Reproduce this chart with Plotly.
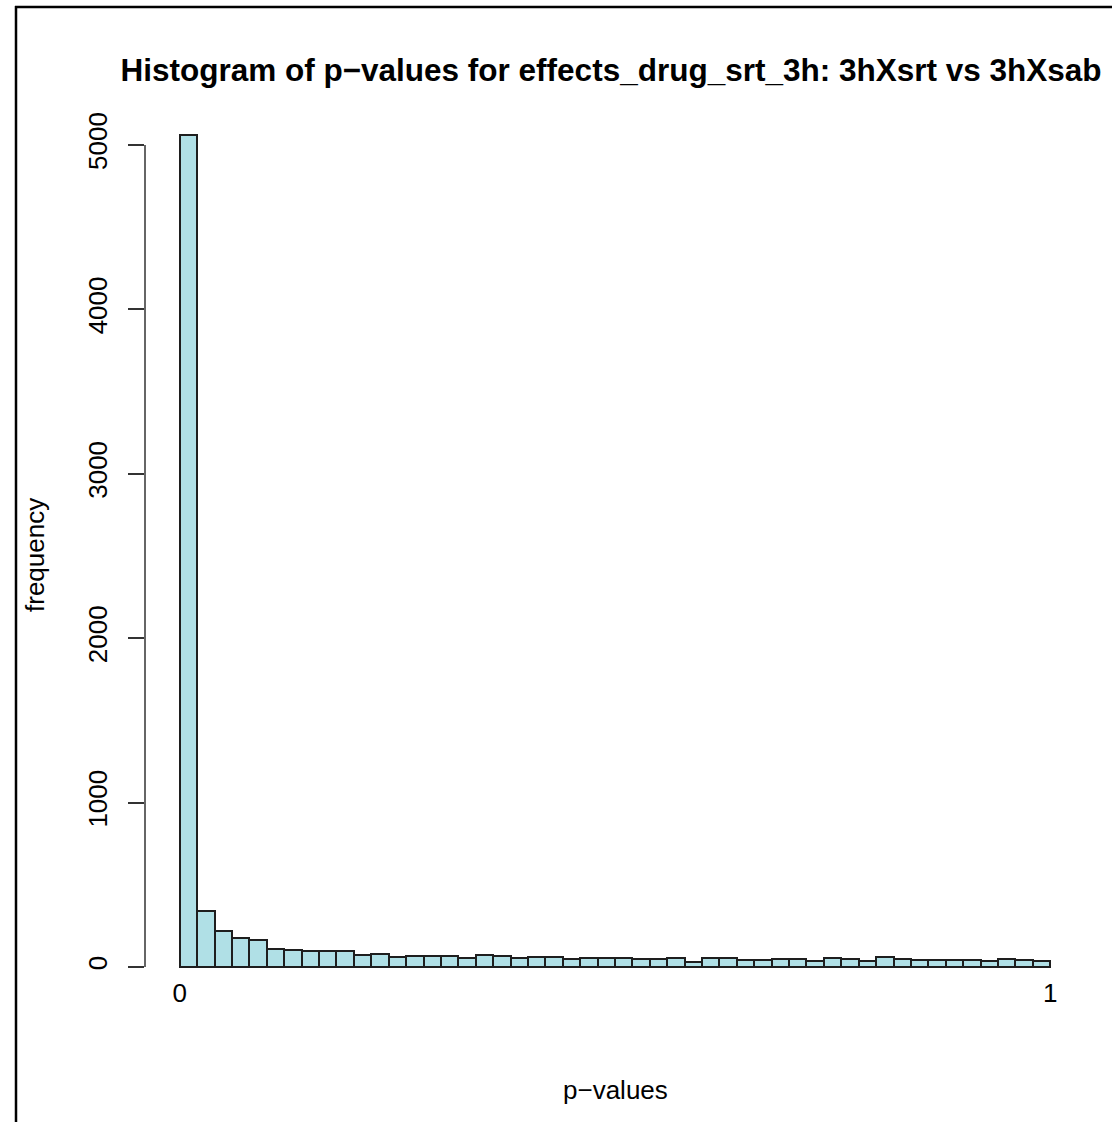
import plotly.graph_objects as go

# ---- data ----
bin_width = 0.02
bin_starts = [round(i * bin_width, 2) for i in range(50)]
counts = [5060, 340, 219, 175, 162, 110, 103, 100, 95, 95,
          75, 79, 59, 69, 69, 65, 57, 73, 65, 57,
          63, 63, 51, 53, 53, 57, 47, 47, 53, 32,
          53, 57, 45, 45, 49, 49, 38, 57, 49, 37,
          61, 51, 42, 45, 43, 43, 36, 51, 45, 36]
x_tick_vals = [0, 1]
x_tick_text = ["0", "1"]
y_tick_vals = [0, 1000, 2000, 3000, 4000, 5000]
y_tick_text = ["0", "1000", "2000", "3000", "4000", "5000"]

title_text = "Histogram of p\u2212values for effects_drug_srt_3h: 3hXsrt vs 3hXsab"
x_label = "p\u2212values"
y_label = "frequency"

FONT = "Liberation Sans, Arial, Helvetica, sans-serif"
W, H = 1112, 1122
L, R, T, B = 145, 27, 102, 147  # plot region 145..1085 x 102..975

fig = go.Figure()
fig.add_trace(go.Bar(
    x=[s + bin_width / 2 for s in bin_starts],
    y=counts,
    width=bin_width,
    marker=dict(color="#B0E0E6", line=dict(color="#1e1e1e", width=2)),
    hoverinfo="x+y",
    showlegend=False,
))

fig.update_layout(
    width=W, height=H,
    margin=dict(l=L, r=R, t=T, b=B, autoexpand=False),
    paper_bgcolor="white", plot_bgcolor="white",
    bargap=0,
    font=dict(family=FONT, size=26, color="black"),
    title=dict(text="<b>" + title_text + "</b>", x=611 / W, xref="container",
               y=1 - 70 / H, yref="container", xanchor="center", yanchor="middle",
               font=dict(family=FONT, size=31.5, color="black")),
    xaxis=dict(range=[-0.04, 1.04], tickvals=x_tick_vals, ticktext=x_tick_text,
               ticks="", showgrid=False, zeroline=False, showline=False,
               tickfont=dict(size=26), ticklabelstandoff=0),
    yaxis=dict(range=[-48.6, 5261], tickvals=y_tick_vals, ticktext=y_tick_text,
               ticks="outside", ticklen=16, tickwidth=1.5, tickcolor="#333333",
               tickangle=-90, showgrid=False, zeroline=False, showline=False,
               tickfont=dict(size=26), ticklabelstandoff=11),
)

# y axis line spanning only the tick range (R style)
fig.add_shape(type="line", xref="paper", yref="y", x0=0, x1=0, y0=0, y1=5000,
              line=dict(color="#333333", width=1.5))

# axis titles
fig.add_annotation(text=y_label, xref="paper", yref="paper",
                   x=(35 - L) / (W - L - R), y=(975 - 555) / (975 - T),
                   showarrow=False, textangle=-90, xanchor="center", yanchor="middle",
                   font=dict(family=FONT, size=26, color="black"))
fig.add_annotation(text=x_label, xref="paper", yref="paper",
                   x=(615 - L) / (W - L - R), y=(975 - 1090) / (975 - T),
                   showarrow=False, xanchor="center", yanchor="middle",
                   font=dict(family=FONT, size=26, color="black"))

# screenshot frame (left and top black border)
pw, ph = W - L - R, 975 - T
def px(x):
    return (x - L) / pw
def py(y):
    return (975 - y) / ph
fig.add_shape(type="line", xref="paper", yref="paper", x0=px(16), x1=px(16),
              y0=py(6), y1=py(H + 5), line=dict(color="black", width=2.5))
fig.add_shape(type="line", xref="paper", yref="paper", x0=px(15), x1=px(W + 5),
              y0=py(7), y1=py(7), line=dict(color="black", width=2.5))

fig.write_html("out.html", config={"displayModeBar": False},
               post_script="document.body.style.margin='0';document.body.style.overflow='hidden';")
